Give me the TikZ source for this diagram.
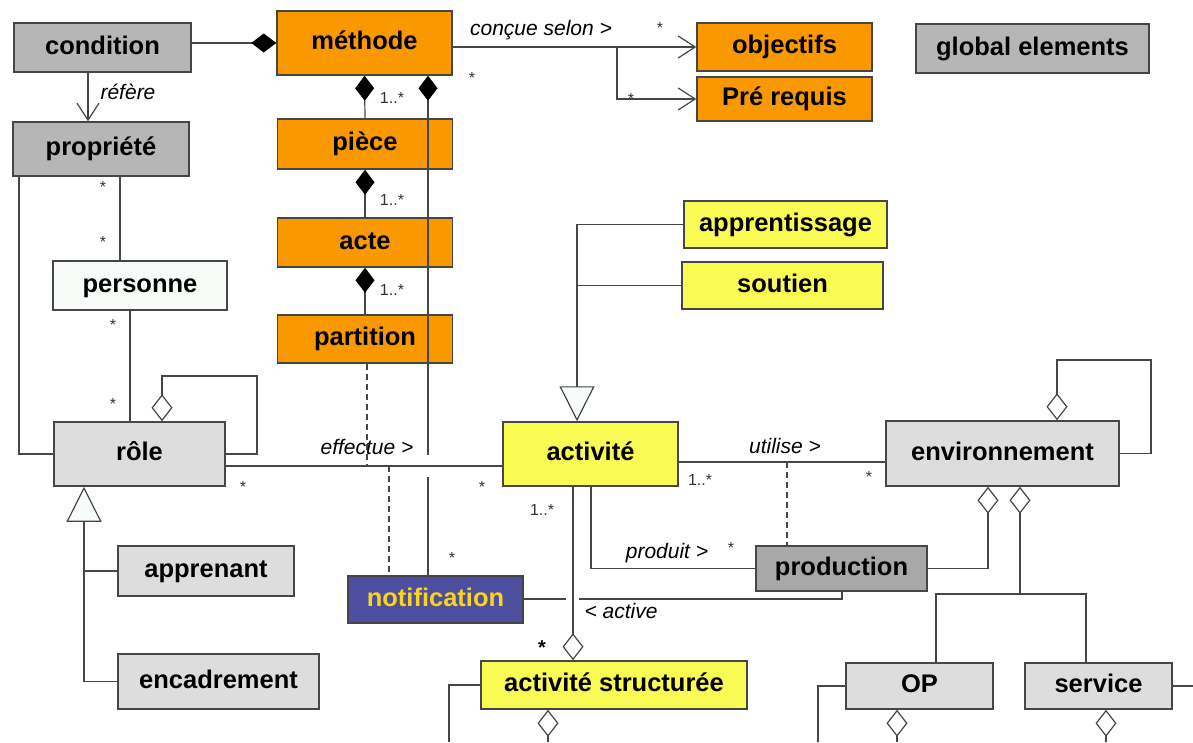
\documentclass[tikz,border=0pt]{standalone}
\usepackage{fontspec}
\setmainfont{Liberation Sans}
\usetikzlibrary{arrows.meta}
\definecolor{orangeM}{RGB}{250,152,0}
\definecolor{grisF}{RGB}{182,182,182}
\definecolor{grisP}{RGB}{168,168,168}
\definecolor{grisC}{RGB}{221,221,221}
\definecolor{jaune}{RGB}{250,250,85}
\definecolor{bleuN}{RGB}{78,78,158}
\definecolor{jauneT}{RGB}{250,212,30}
\definecolor{blancV}{RGB}{248,252,248}
\definecolor{trait}{RGB}{70,70,70}
\newcommand{\bx}{\fontsize{25.5}{28}\selectfont\bfseries}
\newcommand{\lb}{\fontsize{21}{24}\selectfont\itshape}
\newcommand{\ml}{\fontsize{16}{18}\selectfont}

\begin{document}
\begin{tikzpicture}[x=1pt,y=-1pt,
    cls/.style={draw=trait, line width=1.5pt, inner sep=0pt, font=\bx,
                text height=18pt, text depth=5pt},
    lien/.style={draw=trait, line width=1.2pt},
    pointille/.style={lien, dash pattern=on 6pt off 4pt},
    comp/.style={lien, {Diamond[length=25pt,width=19pt,color=black,fill=black]}-},
    agreg/.style={lien, {Diamond[length=27pt,width=21pt,fill=white]}-},
    herit/.style={lien, {Triangle[length=35pt,width=35pt,fill=blancV]}-},
    nav/.style={lien, -{Straight Barb[length=17pt,width=22pt]}},
    lab/.style={font=\lb, inner sep=1pt},
    mult/.style={font=\ml, inner sep=1pt, text=black!80}]
  \path[use as bounding box, fill=white] (0,0) rectangle (1193,742);

  % classes
  \node[cls, fill=grisF, minimum width=177pt, minimum height=49pt] (condition) at (102.5,47.5) {condition};
  \node[cls, fill=orangeM, minimum width=175pt, minimum height=64pt] (methode) at (364.5,43) {méthode};
  \node[cls, fill=grisF, minimum width=176pt, minimum height=54pt] (propriete) at (101,149) {propriété};
  \node[cls, fill=orangeM, minimum width=175pt, minimum height=50pt] (piece) at (365,144) {pièce};
  \node[cls, fill=orangeM, minimum width=175pt, minimum height=49pt] (acte) at (365,242.5) {acte};
  \node[cls, fill=orangeM, minimum width=175pt, minimum height=48pt] (partition) at (365,339) {partition};
  \node[cls, fill=blancV, minimum width=174pt, minimum height=49pt] (personne) at (140,285.5) {personne};
  \node[cls, fill=grisC, minimum width=171pt, minimum height=64pt] (role) at (139.5,454) {rôle};
  \node[cls, fill=grisC, minimum width=176pt, minimum height=50pt] (apprenant) at (206,571) {apprenant};
  \node[cls, fill=grisC, minimum width=201pt, minimum height=55pt] (encadrement) at (218.5,681.5) {encadrement};
  \node[cls, fill=bleuN, text=jauneT, minimum width=175pt, minimum height=47pt] (notification) at (435.5,599.5) {notification};
  \node[cls, fill=jaune, minimum width=175pt, minimum height=64pt] (activite) at (590.5,454) {activité};
  \node[cls, fill=jaune, minimum width=203pt, minimum height=47pt] (apprentissage) at (785.5,224.5) {apprentissage};
  \node[cls, fill=jaune, minimum width=201pt, minimum height=47pt] (soutien) at (782.5,285.5) {soutien};
  \node[cls, fill=grisC, minimum width=233pt, minimum height=65pt] (environnement) at (1002.5,453.5) {environnement};
  \node[cls, fill=grisP, minimum width=171pt, minimum height=45pt] (production) at (841.5,568.5) {production};
  \node[cls, fill=grisC, minimum width=147pt, minimum height=46pt] (op) at (919.5,686) {OP};
  \node[cls, fill=grisC, minimum width=147pt, minimum height=46pt] (service) at (1098.5,686) {service};
  \node[cls, fill=jaune, minimum width=266pt, minimum height=48pt] (actstruct) at (614,685) {activité structurée};
  \node[cls, fill=orangeM, minimum width=175pt, minimum height=48pt] (objectifs) at (784.5,47) {objectifs};
  \node[cls, fill=orangeM, minimum width=175pt, minimum height=44pt] (prerequis) at (784.5,99) {Pré requis};
  \node[cls, fill=grisF, minimum width=233pt, minimum height=49pt] (global) at (1032.5,48.5) {global elements};

  % methode
  \draw[comp] (methode.west) -- (methode.west -| condition.east);
  \foreach \a/\b in {methode/piece, piece/acte, acte/partition}
    \draw[comp] (\a.south) -- (\b.north);
  \draw[comp] (methode.south -| 428,0) -- (428,455);
  \draw[lien] (428,477) -- (notification.north -| 428,0);
  \draw[nav] (objectifs.west -| methode.east) -- (objectifs.west);
  \draw[nav] (617,47) |- (prerequis.west);

  % condition, propriete, personne, role
  \draw[nav] (condition.south -| 88,0) -- (propriete.north -| 88,0);
  \draw[lien] (propriete.south -| 19,0) |- (role.west);
  \draw[lien] (propriete.south -| 120,0) -- (personne.north -| 120,0);
  \draw[lien] (personne.south -| 130,0) -- (role.north -| 130,0);
  \draw[agreg] (role.north -| 162,0) |- (257,376) |- (role.east);
  \draw[herit] (role.south -| 84,0) |- (encadrement.west);
  \draw[lien] (apprenant.west -| 84,0) -- (apprenant.west);

  % effectue
  \draw[lien] (role.east |- 0,466) -- (activite.west |- 0,466);
  \draw[pointille] (partition.south -| 367,0) -- (367,466);
  \draw[pointille] (389,466) -- (notification.north -| 389,0);

  % activite
  \draw[herit] (activite.north -| 577,0) |- (apprentissage.west);
  \draw[lien] (soutien.west -| 577,0) -- (soutien.west);
  \draw[lien] (activite.east |- 0,462) -- (environnement.west |- 0,462);
  \draw[pointille] (787,462) -- (production.north -| 787,0);
  \draw[lien] (activite.south -| 591,0) |- (production.west);
  \draw[lien] (production.south -| 842,0) |- (579,599);
  \draw[lien] (566,599) -- (notification.east |- 0,599);
  \draw[agreg] (actstruct.north -| 573,0) -- (activite.south -| 573,0);

  % environnement
  \draw[agreg] (environnement.south -| 988,0) |- (production.east);
  \draw[agreg] (environnement.south -| 1020,0) -- (1020,594);
  \draw[lien] (op.north -| 936,0) |- (1086,594) -- (service.north -| 1086,0);
  \draw[agreg] (environnement.north -| 1057,0) |- (1151,360) |- (environnement.east);

  % bas
  \draw[lien] (actstruct.west) -| (449,742);
  \draw[agreg] (actstruct.south -| 548,0) -- (548,742);
  \draw[lien] (op.west) -| (818,742);
  \draw[agreg] (op.south -| 897,0) -- (897,742);
  \draw[lien] (service.east) -- (1193,686);
  \draw[agreg] (service.south -| 1106,0) -- (1106,742);

  % libelles
  \node[lab] (lrefere) at (128,92) {réfère};
  \node[lab] (lconcue) at (541,30) {conçue selon >};
  \node[lab] (leffectue) at (367,447) {effectue >};
  \node[lab] (lutilise) at (785,446) {utilise >};
  \node[lab] (lproduit) at (667,553) {produit >};
  \node[lab] (lactive) at (621,611) {< active};

  % multiplicites
  \foreach \x/\y [count=\i] in {103/187, 103/242, 113/325, 113/404, 243/487,
      482/487, 472/78, 452/558, 660/28, 631/99, 869/477, 731/548}
    \node[mult] (et\i) at (\x,\y) {*};
  \foreach \x/\y [count=\i] in {392/98, 392/200, 392/290, 700/480, 542/510}
    \node[mult] (un\i) at (\x,\y) {1..*};
  \node[font=\fontsize{20}{22}\selectfont\bfseries, inner sep=1pt] (etas) at (542,648) {*};
\end{tikzpicture}
\end{document}
